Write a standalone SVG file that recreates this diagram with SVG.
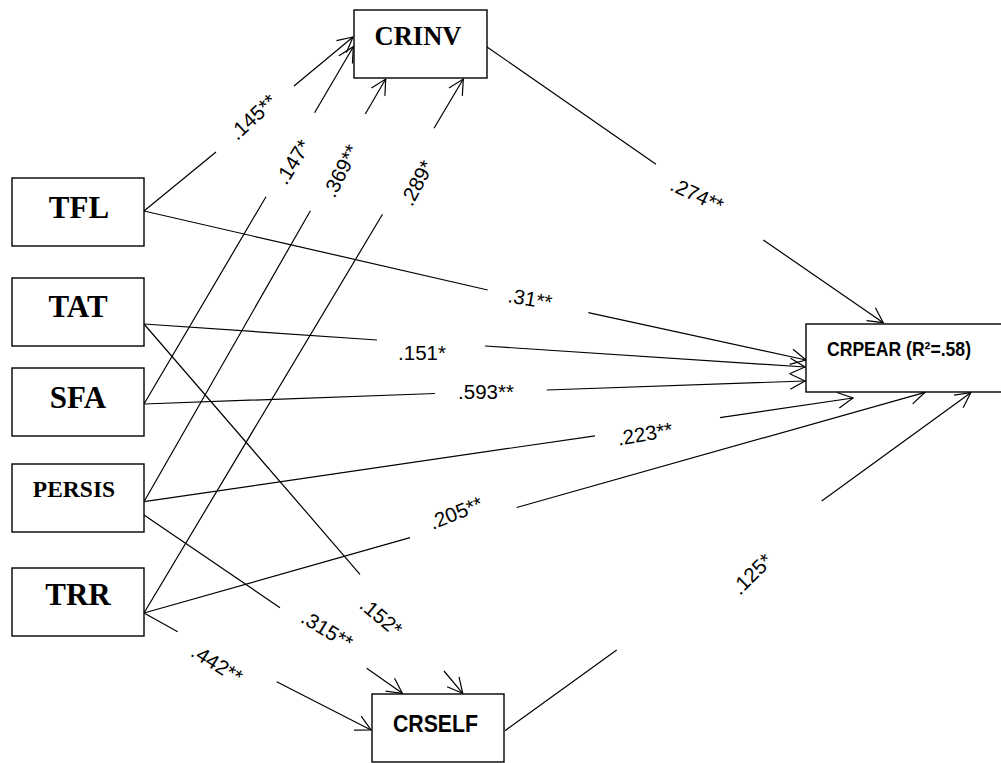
<svg xmlns="http://www.w3.org/2000/svg" width="1001" height="763" viewBox="0 0 1001 763">
<style>
.box{fill:#fff;stroke:#000;stroke-width:1.4}
.ser{font-family:"Liberation Serif","Times New Roman",serif;font-weight:bold;fill:#000;text-anchor:middle}
.sans{font-family:"Liberation Sans",Arial,sans-serif;font-weight:bold;fill:#000}
.lab{font-family:"Liberation Sans",Arial,sans-serif;font-size:20.5px;fill:#000;text-anchor:middle}
.con path{fill:none;stroke:#000;stroke-width:1.2}
</style>
<defs>
<marker id="arr" markerUnits="userSpaceOnUse" markerWidth="24" markerHeight="24" viewBox="-20 -12 24 24" refX="0" refY="0" orient="auto" overflow="visible">
<path d="M-15,-7.8 L0,0 L-15,7.8" fill="none" stroke="#000" stroke-width="1.2"/>
</marker>
</defs>
<rect width="1001" height="763" fill="#fff"/>
<g id="connectors" class="con">
<path d="M144,211 L216,152 M294,86 L353,37" marker-end="url(#arr)"/>
<path d="M144,404 L266,196.7 M314.6,112.7 L353.3,46.7" marker-end="url(#arr)"/>
<path d="M144,501.7 L310.4,210.7 M365.3,114 L385.7,79" marker-end="url(#arr)"/>
<path d="M144,613 L382.5,214.3 M434,128.3 L463.3,79" marker-end="url(#arr)"/>
<path d="M486.7,46.7 L656,164.3 M763.3,240 L883.3,322.7" marker-end="url(#arr)"/>
<path d="M144,211 L487.7,290 M588.3,312.7 L806,360" marker-end="url(#arr)"/>
<path d="M144,324 L377,340 M485,346 L805,367" marker-end="url(#arr)"/>
<path d="M144,404 L435,393.5 M546.7,390 L805,381" marker-end="url(#arr)"/>
<path d="M144,501.7 L595,435.8 M720,417.7 L853,398" marker-end="url(#arr)"/>
<path d="M144,613 L410,537.7 M516.7,507.5 L925,392.3" marker-end="url(#arr)"/>
<path d="M505,730.7 L616.7,650 M821.7,501 L970.7,392.7" marker-end="url(#arr)"/>
<path d="M144,324 L360,574.3 M444,671 L462.7,693.3" marker-end="url(#arr)"/>
<path d="M144,515 L280,607.7 M366.7,668.3 L402.3,693.3" marker-end="url(#arr)"/>
<path d="M144,613 L177.7,631.7 M276.7,681.7 L371,730" marker-end="url(#arr)"/>
</g>
<g id="labels">
<text class="lab" x="253" y="124" transform="rotate(-43 253 117)">.145**</text>
<text class="lab" x="293" y="169" transform="rotate(-58 293 162)">.147*</text>
<text class="lab" x="341" y="178" transform="rotate(-63 341 171)">.369**</text>
<text class="lab" x="417" y="190" transform="rotate(-62 417 183)">.289*</text>
<text class="lab" x="697" y="202" transform="rotate(25 697 195)">.274**</text>
<text class="lab" x="530" y="306" transform="rotate(10 530 299)">.31**</text>
<text class="lab" x="422" y="360">.151*</text>
<text class="lab" x="486" y="399">.593**</text>
<text class="lab" x="645" y="441" transform="rotate(-10 645 434)">.223**</text>
<text class="lab" x="456" y="520" transform="rotate(-22 456 513)">.205**</text>
<text class="lab" x="327" y="637" transform="rotate(31 327 630)">.315**</text>
<text class="lab" x="381" y="624" transform="rotate(40 381 617)">.152*</text>
<text class="lab" x="217" y="671" transform="rotate(32 217 664)">.442**</text>
<text class="lab" x="752" y="581" transform="rotate(-45 752 574)">.125*</text>
</g>
<g id="CRINV">
<rect class="box" x="354" y="10" width="133" height="68"/>
<text class="ser" x="418" y="45" font-size="26.5">CRINV</text>
</g>
<g id="TFL">
<rect class="box" x="12" y="178" width="132" height="68"/>
<text class="ser" x="79" y="218" font-size="31">TFL</text>
</g>
<g id="TAT">
<rect class="box" x="12" y="278" width="132" height="68"/>
<text class="ser" x="78" y="317" font-size="31">TAT</text>
</g>
<g id="SFA">
<rect class="box" x="12" y="368" width="132" height="68"/>
<text class="ser" x="78" y="408" font-size="31">SFA</text>
</g>
<g id="PERSIS">
<rect class="box" x="12" y="464" width="132" height="68"/>
<text class="ser" x="74" y="497" font-size="23.5">PERSIS</text>
</g>
<g id="TRR">
<rect class="box" x="12" y="568" width="132" height="68"/>
<text class="ser" x="78" y="605" font-size="31">TRR</text>
</g>
<g id="CRPEAR">
<rect class="box" x="806" y="324" width="220" height="68"/>
<text class="sans" x="827" y="356" font-size="19.5" textLength="144" lengthAdjust="spacingAndGlyphs">CRPEAR (R²=.58)</text>
</g>
<g id="CRSELF">
<rect class="box" x="372" y="694" width="132" height="68"/>
<text class="sans" x="393" y="732" font-size="24" textLength="85" lengthAdjust="spacingAndGlyphs">CRSELF</text>
</g>
</svg>
